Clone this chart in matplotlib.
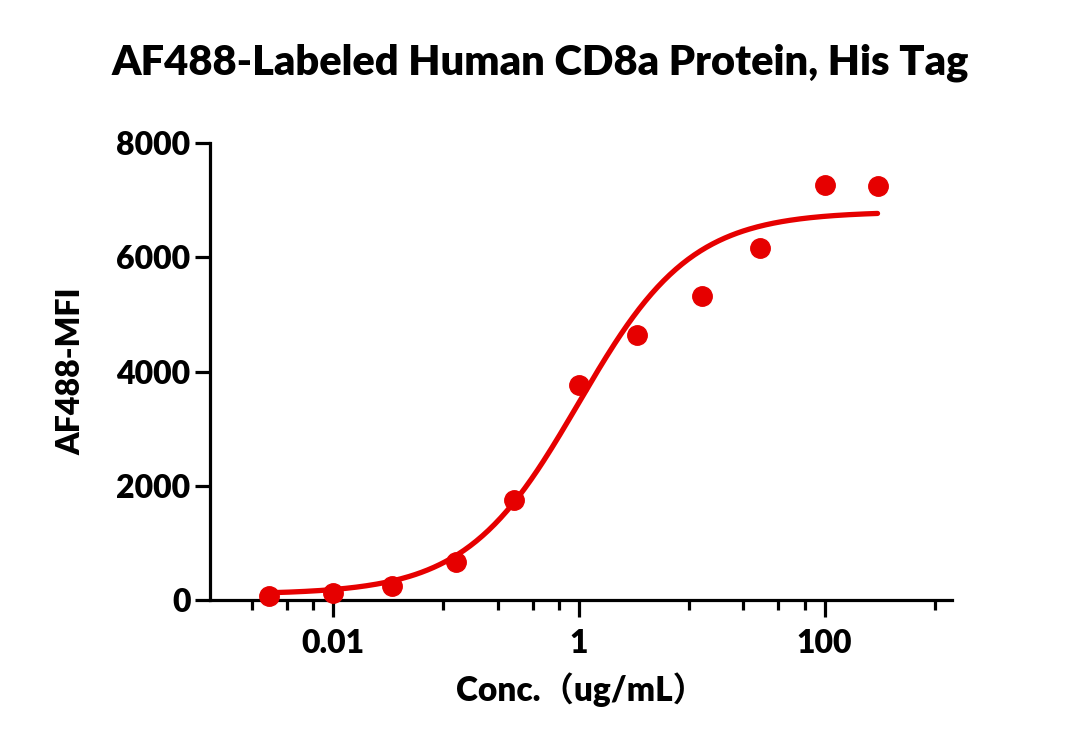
import numpy as np
import matplotlib
matplotlib.use('Agg')
import matplotlib.pyplot as plt

# measured points
conc = [0.003, 0.01, 0.03, 0.1, 0.3, 1, 3, 10, 30, 100, 270]
mfi = [70, 117, 250, 670, 1750, 3765, 4640, 5324, 6159, 7268, 7250]

# 4PL fit parameters
bottom = 100
top = 6800
ec50 = 1.0
hill = 0.95

red = '#e60000'
wt = 'heavy'
plt.rcParams['font.family'] = ['Lato', 'Noto Sans CJK SC', 'DejaVu Sans']

fig = plt.figure(figsize=(10.8, 7.52), dpi=100)
ax = fig.add_axes([0.1944, 0.2021, 0.6871, 0.6077])

xfit = np.logspace(np.log10(conc[0]), np.log10(conc[-1]), 300)
yfit = bottom + (top - bottom) / (1 + (ec50 / xfit) ** hill)
ax.plot(xfit, yfit, color=red, lw=3.8, solid_capstyle='round', zorder=2)
ax.plot(conc, mfi, 'o', color=red, ms=14, mec=red, zorder=3, clip_on=False)

ax.set_xscale('log')
ax.set_xlim(0.001, 1090)
ax.set_ylim(0, 8000)

ax.set_xticks([0.01, 1, 100])
ax.set_xticklabels(['0.01', '1', '100'])
minor = []
for m in [1e-4, 1e-2, 1, 100]:
    for f in [7.9, 21.9, 42.2, 69.2]:
        v = m * f
        if 0.001 < v < 1090:
            minor.append(v)
ax.set_xticks(minor, minor=True)
ax.set_xticklabels([], minor=True)
ax.set_yticks([0, 2000, 4000, 6000, 8000])

for s in ['top', 'right']:
    ax.spines[s].set_visible(False)
for s in ['left', 'bottom']:
    ax.spines[s].set_linewidth(2.3)

ax.tick_params(axis='x', which='major', length=12, width=2.3, labelsize=23, pad=9)
ax.tick_params(axis='x', which='minor', length=7, width=2.3)
ax.tick_params(axis='y', which='major', length=11, width=2.3, labelsize=23, pad=3)
for lab in ax.get_xticklabels() + ax.get_yticklabels():
    lab.set_fontweight(wt)

ax.set_xlabel('Conc.（ug/mL）', fontsize=24, fontweight=wt, labelpad=10)
ax.set_ylabel('AF488-MFI', fontsize=23, fontweight=wt, labelpad=22)
fig.text(0.5, 0.917, 'AF488-Labeled Human CD8a Protein, His Tag',
         ha='center', va='center', fontsize=30, fontweight=wt)

fig.savefig('out.png', dpi=100)
